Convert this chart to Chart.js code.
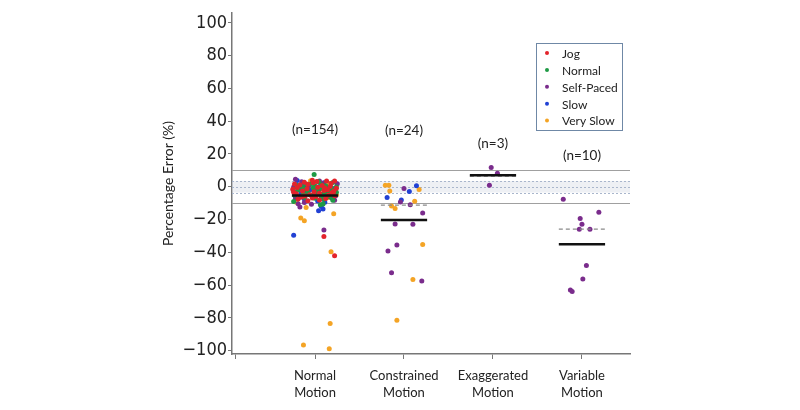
<!DOCTYPE html>
<html>
<head>
<meta charset="utf-8">
<script src="https://cdn.jsdelivr.net/npm/chart.js@4.4.1/dist/chart.umd.min.js"></script>
<style>
  body { margin: 0; background: #fff; }
</style>
</head>
<body>
<canvas id="errChart" width="800" height="410"></canvas>
<script>
// categories and labels
const groups = [['Normal', 'Motion'], ['Constrained', 'Motion'], ['Exaggerated', 'Motion'], ['Variable', 'Motion']];
const nLabels = ['(n=154)', '(n=24)', '(n=3)', '(n=10)'];
const nLabelPct = [35, 34, 26.5, 19];
const yTicks = [-100, -80, -60, -40, -20, 0, 20, 40, 60, 80, 100];
const seriesNames = ['Jog', 'Normal', 'Self-Paced', 'Slow', 'Very Slow'];
const seriesColors = ['#e3232b', '#1f9a45', '#7a2c8c', '#2141d4', '#f4a425'];

// group means (solid) and medians (dashed), percent
const meanPct = [-5.3, -20.2, 7.0, -35.0];
const medianPct = [null, -11.2, 6.5, -25.8];
const limitLines = [10, -10];
const bandPct = [-3.5, 3.5];

// Jog (all Normal Motion)
const jogCat = [1,1,1,1,1,1,1,1,1,1,1,1,1,1,1,1,1,1,1,1,1,1,1,1,1,1,1,1,1,1,1,1,1,1,1,1,1,1,1,1];
const jogJit = [0.02,0.13,0.22,-0.23,-0.17,-0.02,0.08,0.18,-0.20,-0.09,0.03,0.14,0.24,-0.14,-0.01,0.10,0.19,-0.21,-0.06,0.05,0.15,-0.11,0.01,0.22,-0.19,-0.03,0.12,-0.08,0.05,-0.08,0.17,-0.25,-0.12,-0.24,0.21,-0.03,0.11,-0.15,0.10,0.22];
const jogPct = [3.2,3.5,3.5,1.7,1.1,2.4,0.8,2.0,-0.5,-1.2,-0.3,-1.8,-0.9,-2.5,-3.1,-2.2,-3.6,-4.2,-4.8,-4.0,-5.2,-5.6,-6.0,-5.4,-7.4,-6.8,-7.1,-8.5,-8.0,1.5,0.2,-1.5,2.8,-3.4,-2.7,4.0,-0.8,-6.3,-30.3,-42.0];

// Normal pace (all Normal Motion)
const normCat = [1,1,1,1,1,1,1,1,1,1,1,1,1,1,1,1,1,1,1,1,1,1,1,1,1,1,1,1,1,1,1,1,1,1,1,1,1,1,1,1,1];
const normJit = [-0.01,-0.04,-0.10,0.07,0.12,0.20,-0.15,-0.02,0.06,0.18,0.23,-0.19,0.01,0.12,-0.08,0.16,0.24,-0.13,0.03,0.09,0.20,-0.23,-0.04,0.07,0.17,-0.12,0.00,0.10,-0.24,0.20,0.06,0.09,0.04,-0.21,0.24,-0.11,-0.24,0.13,0.00,0.22,0.13];
const normPct = [7.5,2.0,1.5,1.2,0.6,2.6,0.0,-0.6,-1.0,-0.4,-1.5,-2.0,-2.3,-1.9,-3.0,-2.8,-3.3,-3.9,-3.5,-4.4,-4.6,-5.0,-5.3,-5.8,-6.2,-6.6,-7.0,-7.6,-9.0,-8.2,-11.0,-10.5,3.0,1.0,-0.2,-1.3,-2.6,-4.1,0.4,-3.7,-5.5];

// Self-Paced
const selfCat = [1,1,1,1,1,1,1,1,1,1,1,1,1,1,1,1,1,1,1,1,1,1,1,1,
                 2,2,2,2,2,2,2,2,2,2,
                 3,3,3,
                 4,4,4,4,4,4,4,4,4,4];
const selfJit = [-0.22,-0.15,0.09,-0.07,0.15,-0.18,0.20,-0.10,0.02,0.23,-0.17,0.07,0.22,-0.12,-0.19,-0.17,-0.04,0.10,0.25,0.04,-0.02,-0.22,0.05,-0.24,
                 0.00,-0.04,0.07,0.21,-0.10,0.10,-0.08,-0.18,-0.14,0.20,
                 -0.02,0.05,-0.04,
                 -0.21,0.19,-0.02,0.00,-0.03,0.09,0.05,0.01,-0.13,-0.11];
const selfPct = [4.6,3.0,2.2,0.5,-0.7,-1.6,-2.9,-3.8,-4.5,-5.6,-6.4,-7.2,-8.2,-9.6,-10.4,-12.4,-10.6,-26.4,1.8,-2.0,-5.0,-6.9,3.5,-0.2,
                 -1.1,-9.3,-10.9,-16.0,-22.7,-22.9,-35.5,-39.1,-52.5,-57.4,
                 11.7,8.2,0.9,
                 -7.6,-15.5,-19.4,-22.9,-25.9,-25.9,-48.0,-56.2,-62.9,-63.9];

// Slow
const slowCat = [1,1,1,1,1,1,1,1,1,1,1,1,1,1,1,1,1,1,1,1,
                 2,2,2,2];
const slowJit = [-0.20,0.10,-0.12,0.05,0.20,-0.06,0.14,-0.16,0.08,-0.02,-0.12,0.03,0.11,0.04,0.09,-0.24,0.19,-0.22,-0.01,0.07,
                 0.14,0.06,-0.19,-0.03];
const slowPct = [3.8,2.5,1.0,0.2,-1.1,-2.1,-3.2,-4.4,-5.5,-6.2,-7.5,-8.6,-9.5,-14.6,-13.6,-29.5,-6.8,-3.6,-0.9,-12.0,
                 0.7,-2.9,-6.6,-8.0];

// Very Slow
const vslowCat = [1,1,1,1,1,1,1,1,1,1,1,1,1,1,1,1,
                  2,2,2,2,2,2,2,2,2,2];
const vslowJit = [-0.05,0.16,-0.20,0.09,-0.01,0.15,-0.21,-0.10,-0.16,-0.12,0.21,0.18,0.17,-0.13,0.16,0.24,
                  -0.21,-0.17,-0.16,0.17,0.12,-0.14,-0.10,0.21,0.10,-0.08];
const vslowPct = [3.7,2.0,0.8,-1.5,-3.5,-6.5,-9.5,-12.6,-19.0,-20.7,-16.5,-39.6,-83.4,-96.5,-98.8,-4.8,
                  0.9,0.9,-2.5,-1.7,-8.8,-11.7,-13.3,-35.2,-56.6,-81.4];

function toPoints(cat, jit, pct) {
  let pts = [];
  for (let i = 0; i < pct.length; i++) {
    pts.push({ x: cat[i] + jit[i], y: pct[i] });
  }
  return pts;
}

const allSeries = [
  toPoints(jogCat, jogJit, jogPct),
  toPoints(normCat, normJit, normPct),
  toPoints(selfCat, selfJit, selfPct),
  toPoints(slowCat, slowJit, slowPct),
  toPoints(vslowCat, vslowJit, vslowPct)
];

const fontText = "Lato, 'Open Sans', sans-serif";
const fontNum = "'Liberation Sans Narrow', 'DejaVu Sans Condensed', 'Liberation Sans', sans-serif";

// reference lines behind the points, means/medians/labels/legend on top
const overlay = {
  id: 'overlay',
  beforeDatasetsDraw(chart) {
    const c = chart.ctx;
    const x = chart.scales.x, y = chart.scales.y;
    const a = chart.chartArea;
    c.save();
    const yb1 = y.getPixelForValue(bandPct[1]), yb0 = y.getPixelForValue(bandPct[0]);
    c.fillStyle = 'rgba(205,212,224,0.35)';
    c.fillRect(a.left, yb1, a.right - a.left, yb0 - yb1);
    c.strokeStyle = '#a9b6cc';
    c.lineWidth = 1;
    c.setLineDash([2, 2]);
    [bandPct[0], 0, bandPct[1]].forEach(v => {
      const py = Math.round(y.getPixelForValue(v)) + 0.5;
      c.beginPath(); c.moveTo(a.left, py); c.lineTo(a.right, py); c.stroke();
    });
    c.setLineDash([]);
    c.strokeStyle = '#a0a0a0';
    limitLines.forEach(v => {
      const py = Math.round(y.getPixelForValue(v)) + 0.5;
      c.beginPath(); c.moveTo(a.left, py); c.lineTo(a.right, py); c.stroke();
    });
    c.restore();
  },
  afterDatasetsDraw(chart) {
    const c = chart.ctx;
    const x = chart.scales.x, y = chart.scales.y;
    c.save();
    for (let i = 0; i < meanPct.length; i++) {
      const x0 = x.getPixelForValue(i + 1 - 0.26), x1 = x.getPixelForValue(i + 1 + 0.26);
      if (medianPct[i] !== null) {
        const pm = y.getPixelForValue(medianPct[i]);
        c.strokeStyle = '#8a8a8a';
        c.lineWidth = 1.2;
        c.setLineDash([4, 3]);
        c.beginPath(); c.moveTo(x0, pm); c.lineTo(x1, pm); c.stroke();
      }
      c.setLineDash([]);
      const py = y.getPixelForValue(meanPct[i]);
      c.strokeStyle = '#111';
      c.lineWidth = 2.5;
      c.beginPath(); c.moveTo(x0, py); c.lineTo(x1, py); c.stroke();

      c.fillStyle = '#222';
      c.font = '13.5px ' + fontText;
      c.textAlign = 'center';
      c.textBaseline = 'middle';
      c.fillText(nLabels[i], x.getPixelForValue(i + 1), y.getPixelForValue(nLabelPct[i]));
    }

    // legend box
    const bx = 536, by = 43, bw = 86, bh = 87;
    c.strokeStyle = '#6f88a6';
    c.lineWidth = 1;
    c.strokeRect(bx + 0.5, by + 0.5, bw, bh);
    c.font = '12px ' + fontText;
    c.textAlign = 'left';
    for (let i = 0; i < seriesNames.length; i++) {
      const ry = 54 + i * 16.9;
      c.fillStyle = seriesColors[i];
      c.beginPath(); c.arc(547, ry - 1, 2, 0, Math.PI * 2); c.fill();
      c.fillStyle = '#222';
      c.fillText(seriesNames[i], 562, ry);
    }
    c.restore();
  }
};

new Chart(document.getElementById('errChart'), {
  type: 'scatter',
  data: {
    datasets: allSeries.map((pts, i) => ({
      label: seriesNames[i],
      data: pts,
      backgroundColor: seriesColors[i],
      borderColor: seriesColors[i],
      borderWidth: 0,
      pointRadius: 2.5
    }))
  },
  options: {
    responsive: false,
    animation: false,
    layout: { padding: { left: 156, right: 170, top: 13, bottom: 0 } },
    plugins: { legend: { display: false }, tooltip: { enabled: false } },
    scales: {
      x: {
        type: 'linear',
        min: 0.067,
        max: 4.54,
        afterBuildTicks: s => { s.ticks = [0.11, 1, 2, 3, 4].map(v => ({ value: v })); },
        afterFit: s => { s.height = 56; },
        ticks: {
          callback: v => (v >= 1 ? groups[Math.round(v) - 1] : ''),
          color: '#222',
          font: { family: fontText, size: 13, lineHeight: 1.3 },
          padding: 8,
          maxRotation: 0,
          autoSkip: false
        },
        grid: { drawOnChartArea: false, tickLength: 5, color: '#777' },
        border: { display: true, color: '#777', width: 1.5 }
      },
      y: {
        min: -102,
        max: 106,
        afterBuildTicks: s => { s.ticks = yTicks.map(v => ({ value: v })); },
        afterFit: s => { s.width = 76; },
        ticks: {
          callback: v => (v < 0 ? '\u2212' + Math.abs(v) : String(v)),
          color: '#222',
          font: { family: fontNum, size: 18 },
          padding: 1
        },
        grid: { drawOnChartArea: false, tickLength: 4, color: '#777' },
        border: { display: true, color: '#777', width: 1.5 },
        title: {
          display: true,
          text: 'Percentage Error (%)',
          color: '#222',
          font: { family: fontText, size: 14 }
        }
      }
    }
  },
  plugins: [overlay]
});
</script>
</body>
</html>
